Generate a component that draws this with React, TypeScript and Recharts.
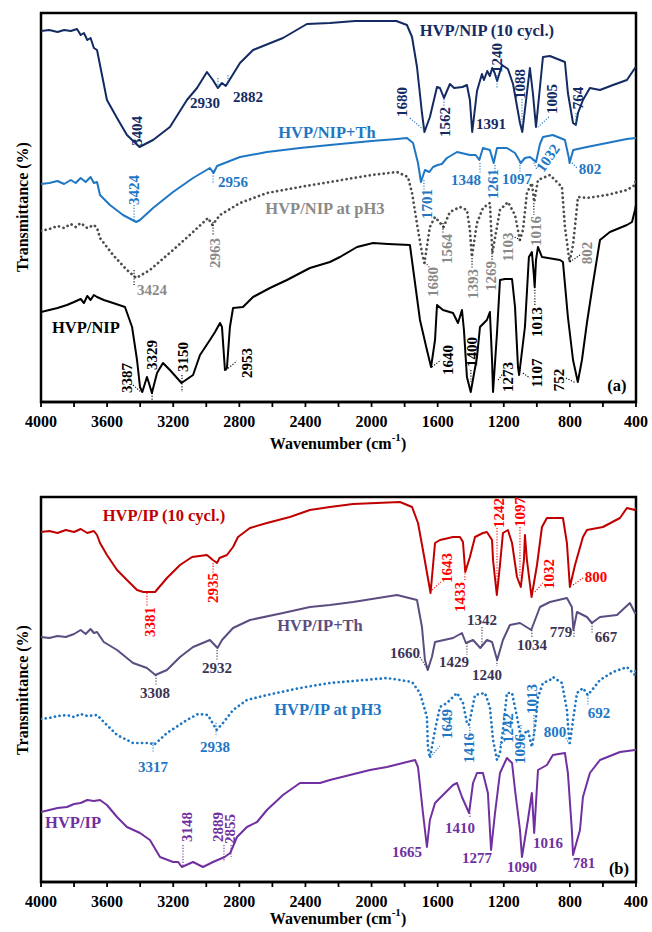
import {
  LineChart,
  Line,
  XAxis,
  YAxis,
  ReferenceArea,
  ReferenceDot,
  ReferenceLine,
} from 'recharts'

type Pt = [number, number] // [wavenumber cm-1, transmittance (arbitrary, offset)]
type Note = { t: string; w: number; v: number; c: string; r?: number; s?: number }
type Lead = [number, number, number, number, string]

const FONT = '"Liberation Serif", "Times New Roman", serif'

const xTicks = [4000, 3800, 3600, 3400, 3200, 3000, 2800, 2600, 2400, 2200, 2000, 1800, 1600, 1400, 1200, 1000, 800, 600, 400]

// ---- panel (a) spectra ----
const nip10Spec: Pt[] = [
  [4000, 92.75], [3950, 93], [3900, 92.5], [3860, 93], [3820, 92.75], [3782, 93.25], [3760, 91.75],
  [3740, 92.25], [3720, 90.5], [3700, 91], [3680, 88.5], [3661, 88], [3643, 84.25], [3601, 75.5],
  [3540, 71], [3480, 66.75], [3404, 63.75], [3322, 65.5], [3220, 68.75], [3117, 75.5], [3056, 78.5],
  [2996, 82.5], [2960, 80.5], [2930, 78.5], [2905, 79.75], [2882, 79], [2796, 84.75], [2717, 88],
  [2536, 91], [2391, 94.5], [2252, 94.75], [2100, 95.25], [1949, 95.25], [1850, 95.25], [1786, 94.25],
  [1755, 91.25], [1725, 83.75], [1695, 72.25], [1680, 67.5], [1647, 71.25], [1604, 78.75], [1586, 78.5],
  [1562, 76], [1526, 79.5], [1500, 78.5], [1450, 78.75], [1423, 79.25], [1405, 75.5], [1391, 67.5],
  [1362, 77.75], [1332, 82], [1320, 80.5], [1300, 82.75], [1284, 81.5], [1270, 83.5], [1255, 82.25],
  [1240, 80.25], [1211, 84.25], [1175, 83.25], [1144, 79.5], [1102, 69.75], [1088, 67.5], [1060, 77.25],
  [1042, 83.5], [1024, 77.25], [1005, 68.75], [981, 78.75], [963, 86.25], [921, 86.5], [860, 85.5],
  [830, 85], [812, 77.25], [781, 69.75], [764, 69.25], [751, 72.25], [721, 75.5], [679, 78.5],
  [618, 78], [539, 79.25], [455, 80.5], [406, 83.5], [400, 83.75],
]

const nipThSpec: Pt[] = [
  [4000, 54.5], [3950, 54.75], [3900, 55.25], [3860, 54.5], [3820, 55.5], [3790, 54.75], [3760, 56],
  [3730, 55], [3700, 56.25], [3680, 54.75], [3661, 55], [3643, 51.75], [3583, 49.25], [3504, 46.75],
  [3424, 45], [3401, 45.5], [3322, 48.5], [3201, 52.5], [3080, 56], [2978, 58.5], [2956, 57.25],
  [2935, 59], [2796, 61.25], [2633, 62.5], [2433, 63.5], [2252, 64.25], [2000, 65.25], [1846, 65.75],
  [1786, 66], [1749, 64.75], [1719, 59.75], [1701, 55], [1677, 58], [1650, 57.5], [1628, 58.75],
  [1600, 59.25], [1575, 59.5], [1544, 61], [1483, 62.5], [1405, 61.75], [1370, 61.75], [1348, 60.5],
  [1326, 63.5], [1284, 63], [1261, 59.75], [1241, 63.5], [1181, 63.5], [1132, 62.25], [1097, 59.75],
  [1072, 61], [1042, 61.25], [1018, 60.5], [1005, 60], [981, 64.5], [963, 66.25], [903, 66.75],
  [830, 65.5], [806, 61], [802, 59.75], [780, 63], [697, 63.75], [576, 64.75], [455, 65.75], [400, 66],
]

const nipPH3Spec: Pt[] = [
  [4000, 42.75], [3950, 43.25], [3900, 44], [3860, 43.5], [3820, 44.5], [3790, 43.75], [3760, 44.75],
  [3720, 43.5], [3680, 44.25], [3661, 43.5], [3643, 41], [3564, 36.75], [3480, 33], [3424, 31],
  [3341, 33], [3201, 38], [3080, 42.5], [2990, 46], [2963, 44.25], [2917, 46.75], [2796, 49.75],
  [2633, 52.25], [2433, 53.75], [2252, 55], [2000, 56.75], [1846, 57.5], [1780, 56.25], [1755, 52.25],
  [1719, 43], [1695, 37.25], [1680, 34.75], [1647, 43.75], [1616, 46.25], [1564, 43.75], [1526, 47.5],
  [1465, 48.75], [1423, 48], [1405, 43], [1393, 36.25], [1362, 44.75], [1326, 48.5], [1284, 49.75],
  [1269, 37.25], [1223, 48], [1175, 50], [1132, 46.75], [1103, 40.5], [1084, 43], [1060, 52.25],
  [1030, 54.75], [1016, 50], [993, 55.5], [921, 56.75], [848, 53.75], [830, 43.75], [802, 35],
  [781, 39.25], [751, 51.25], [697, 51], [576, 51.75], [455, 53], [406, 54.25], [400, 56],
]

const nipSpec: Pt[] = [
  [4000, 22.5], [3950, 23], [3900, 23.5], [3843, 24.25], [3800, 25], [3760, 25.75], [3740, 24.75],
  [3720, 26.5], [3700, 25.5], [3680, 26.75], [3661, 26.25], [3620, 25.5], [3564, 24.75], [3492, 23.75],
  [3449, 18.75], [3419, 10.5], [3401, 3.75], [3387, 2.5], [3359, 6.25], [3347, 4.75], [3329, 2.25],
  [3298, 7.25], [3262, 9.75], [3220, 8], [3150, 4.75], [3080, 6.75], [3038, 11.75], [2978, 15.5],
  [2947, 17.5], [2917, 19.75], [2905, 18.75], [2887, 8], [2875, 8.5], [2857, 18.75], [2838, 23.5],
  [2778, 23.75], [2717, 26.25], [2615, 28.5], [2512, 30.5], [2373, 33.5], [2252, 35], [2191, 36.25],
  [2088, 38.75], [1991, 39.75], [1900, 39.5], [1768, 39.25], [1737, 29.75], [1707, 20.5], [1665, 13],
  [1640, 8.75], [1616, 15.5], [1604, 24.25], [1568, 23], [1507, 22.25], [1477, 19.75], [1453, 23],
  [1441, 18], [1423, 6.25], [1400, 2.5], [1362, 11.25], [1344, 18.75], [1302, 20.5], [1284, 22.5],
  [1271, 10.5], [1265, 2.5], [1241, 17.25], [1223, 30.5], [1193, 30.75], [1150, 30.75], [1132, 23.75],
  [1114, 8.75], [1107, 6.75], [1072, 18.75], [1048, 36.25], [1030, 37.5], [1018, 31.75], [1013, 28.75],
  [1005, 35.5], [993, 38.75], [969, 36.25], [860, 35.5], [842, 35], [812, 21.25], [781, 10.5],
  [752, 5], [727, 10.5], [697, 19.75], [660, 29.75], [618, 40.5], [558, 42.5], [455, 44.25],
  [424, 45], [406, 48], [400, 49.25],
]

// ---- panel (b) spectra ----
const ip10Spec: Pt[] = [
  [4000, 87.5], [3950, 87.75], [3900, 87.25], [3850, 88], [3800, 87.5], [3760, 88.25], [3720, 87.25],
  [3680, 87.75], [3661, 86.75], [3643, 84.75], [3601, 81.75], [3540, 78], [3480, 75.5], [3419, 73],
  [3381, 72.5], [3310, 72.5], [3238, 76], [3159, 79.25], [3086, 81.25], [2996, 81.75], [2960, 80.5],
  [2935, 79.75], [2920, 81], [2875, 81.75], [2838, 83.75], [2808, 86.25], [2736, 88.5], [2633, 89.75],
  [2494, 91.25], [2373, 93], [2252, 93.75], [2112, 94.5], [1828, 95], [1755, 93.75], [1719, 89.75],
  [1689, 83], [1643, 72.25], [1616, 84.75], [1586, 85.5], [1507, 86.25], [1465, 86.25], [1447, 85],
  [1433, 77.5], [1405, 81.25], [1374, 86.25], [1326, 87.25], [1302, 87.5], [1271, 85.5], [1265, 80.5],
  [1242, 71.75], [1223, 79.25], [1205, 87.25], [1175, 88], [1150, 84.75], [1120, 76.25], [1097, 73.75],
  [1078, 80.5], [1072, 86.75], [1060, 80.5], [1032, 71.25], [999, 79.25], [969, 88.75], [939, 91],
  [842, 91], [818, 84.75], [800, 73.75], [769, 79.25], [721, 86.25], [697, 88], [600, 88.75],
  [497, 91], [455, 93.5], [406, 93], [400, 93.5],
]

const ipThSpec: Pt[] = [
  [4000, 61.25], [3950, 61], [3900, 61.5], [3850, 61.25], [3800, 62], [3760, 63], [3730, 62],
  [3700, 63.25], [3680, 62.25], [3661, 62.5], [3620, 60], [3540, 58], [3443, 54.75], [3359, 53.5],
  [3308, 51.75], [3238, 53], [3159, 56.25], [3080, 58.75], [2978, 60.5], [2932, 58.5], [2905, 60.5],
  [2838, 63.5], [2736, 65.5], [2536, 67.25], [2373, 68.75], [2252, 69.25], [2112, 70], [1846, 71.75],
  [1725, 70.5], [1695, 63.75], [1677, 55.5], [1660, 53], [1635, 56.25], [1616, 60], [1507, 61],
  [1453, 62.25], [1429, 59.75], [1386, 60.5], [1342, 58.5], [1302, 60.5], [1271, 60], [1240, 55.5],
  [1205, 60.5], [1163, 64.25], [1102, 64.75], [1034, 63], [981, 68.75], [921, 70], [818, 71],
  [788, 68.75], [779, 63], [757, 67.5], [697, 66.25], [667, 64.75], [618, 66.25], [515, 66.75],
  [437, 69.75], [406, 67.25], [400, 67.25],
]

const ipPH3Spec: Pt[] = [
  [4000, 40.75], [3950, 41], [3900, 41.5], [3843, 41.75], [3800, 41.25], [3760, 42], [3720, 41.5],
  [3661, 41.75], [3620, 40], [3540, 36.75], [3443, 34.75], [3341, 34.75], [3317, 34.25], [3238, 37.25],
  [3117, 40.5], [3050, 42], [2990, 41.75], [2938, 38], [2899, 39.75], [2838, 43], [2754, 45.5],
  [2633, 46.75], [2433, 48.5], [2252, 49.75], [2112, 50.25], [1907, 51], [1755, 50], [1707, 47.25],
  [1665, 41.25], [1659, 33.75], [1647, 31], [1616, 38], [1586, 43.75], [1544, 44.75], [1483, 47.25],
  [1447, 44.75], [1423, 39.75], [1411, 39.25], [1374, 46.75], [1314, 47.25], [1284, 43.75], [1265, 35.5],
  [1241, 30.5], [1223, 32.25], [1205, 38], [1181, 47.25], [1150, 47.25], [1120, 41.25], [1096, 36],
  [1072, 37.25], [1054, 38], [1030, 33.75], [1013, 38], [993, 46.25], [963, 49.75], [921, 50.5],
  [903, 51.25], [848, 49.75], [818, 43], [806, 36.25], [800, 34.75], [781, 40.5], [757, 47.25],
  [721, 48.5], [692, 46.75], [666, 48], [618, 50.5], [539, 52.5], [455, 53.75], [406, 51.75], [400, 53.5],
]

const ipSpec: Pt[] = [
  [4000, 17.5], [3950, 18], [3900, 18.5], [3843, 18.75], [3800, 19.5], [3760, 19.75], [3720, 20.5],
  [3680, 20.25], [3643, 20.5], [3601, 19.25], [3540, 16.25], [3480, 13.75], [3401, 12.25], [3341, 10.5],
  [3280, 6.25], [3201, 5], [3170, 5], [3148, 3.75], [3080, 5], [3020, 3.75], [2959, 5], [2889, 6.25],
  [2855, 7.25], [2814, 11.25], [2754, 13.75], [2693, 15], [2633, 18], [2536, 21.75], [2433, 24.75],
  [2312, 24.75], [2252, 25.5], [2010, 28], [1907, 28.75], [1737, 30.5], [1719, 28.75], [1689, 17.25],
  [1665, 8.75], [1647, 15.5], [1616, 19.75], [1568, 21.75], [1507, 24.25], [1483, 24.75], [1453, 21.25],
  [1410, 17.25], [1386, 24.75], [1362, 27.25], [1326, 27.25], [1296, 22.25], [1277, 8], [1253, 17.25],
  [1223, 27.25], [1181, 31], [1150, 29.75], [1132, 23], [1102, 13], [1090, 6.25], [1054, 15.5],
  [1030, 22.25], [1016, 12.25], [993, 28], [939, 29.25], [903, 31.75], [830, 32.25], [812, 27.25],
  [788, 13], [781, 6.75], [739, 13], [721, 21.25], [679, 27.25], [618, 30.5], [497, 32.5], [406, 33], [400, 33],
]

const NAVY = '#132a62'
const BLUE = '#1f77c4'
const GREY_LINE = '#4d4d4d'
const GREY_TXT = '#8a8a8a'
const DARKRED = '#c00000'
const RED = '#ff0000'
const PLUM = '#5c4d80'
const PLUM_TXT = '#3b3453'
const PURPLE = '#7030a0'

const seriesA = [
  { id: 'nip10', pts: nip10Spec, color: NAVY, dotted: false },
  { id: 'nipTh', pts: nipThSpec, color: BLUE, dotted: false },
  { id: 'nipPH3', pts: nipPH3Spec, color: GREY_LINE, dotted: true },
  { id: 'nip', pts: nipSpec, color: '#000', dotted: false },
]

const seriesB = [
  { id: 'ip10', pts: ip10Spec, color: DARKRED, dotted: false },
  { id: 'ipTh', pts: ipThSpec, color: PLUM, dotted: false },
  { id: 'ipPH3', pts: ipPH3Spec, color: BLUE, dotted: true },
  { id: 'ip', pts: ipSpec, color: PURPLE, dotted: false },
]

const notesA: Note[] = [
  { t: 'HVP/NIP (10 cycl.)', w: 1302, v: 93, c: NAVY, s: 16.5 },
  { t: 'HVP/NIP+Th', w: 2270, v: 67.5, c: BLUE, s: 16.5 },
  { t: 'HVP/NIP at pH3', w: 2282, v: 48.5, c: GREY_TXT, s: 16.5 },
  { t: 'HVP/NIP', w: 3728, v: 18.75, c: '#000', s: 16.5 },
  { t: '(a)', w: 515, v: 4.25, c: '#000', s: 16.5 },
  { t: '3404', w: 3419, v: 67.75, c: NAVY, r: -90 },
  { t: '2930', w: 3008, v: 74.75, c: NAVY },
  { t: '2882', w: 2748, v: 76.25, c: NAVY },
  { t: '1680', w: 1816, v: 75, c: NAVY, r: -90 },
  { t: '1562', w: 1556, v: 70, c: NAVY, r: -90 },
  { t: '1391', w: 1277, v: 69.5, c: NAVY },
  { t: '1240', w: 1241, v: 86, c: NAVY, r: -90 },
  { t: '1088', w: 1102, v: 79.5, c: NAVY, r: -90 },
  { t: '1005', w: 908, v: 75.75, c: NAVY, r: -90 },
  { t: '764', w: 751, v: 76, c: NAVY, r: -90 },
  { t: '3424', w: 3437, v: 53, c: BLUE, r: -90 },
  { t: '2956', w: 2838, v: 55, c: BLUE },
  { t: '1701', w: 1665, v: 49.5, c: BLUE, r: -90 },
  { t: '1348', w: 1429, v: 55.5, c: BLUE },
  { t: '1261', w: 1265, v: 54.5, c: BLUE, r: -90 },
  { t: '1097', w: 1120, v: 55.75, c: BLUE },
  { t: '1032', w: 933, v: 61, c: BLUE, r: -55 },
  { t: '802', w: 679, v: 58.25, c: BLUE },
  { t: '3424', w: 3328, v: 28, c: GREY_TXT },
  { t: '2963', w: 2947, v: 37.25, c: GREY_TXT, r: -90 },
  { t: '1680', w: 1628, v: 30, c: GREY_TXT, r: -90 },
  { t: '1564', w: 1544, v: 38.25, c: GREY_TXT, r: -90 },
  { t: '1393', w: 1386, v: 29.5, c: GREY_TXT, r: -90 },
  { t: '1269', w: 1277, v: 31.5, c: GREY_TXT, r: -90 },
  { t: '1103', w: 1175, v: 38.75, c: GREY_TXT, r: -90 },
  { t: '1016', w: 1005, v: 42.75, c: GREY_TXT, r: -90 },
  { t: '802', w: 697, v: 37.25, c: GREY_TXT, r: -90 },
  { t: '3387', w: 3480, v: 6, c: '#000', r: -90 },
  { t: '3329', w: 3328, v: 11.75, c: '#000', r: -90 },
  { t: '3150', w: 3141, v: 11.25, c: '#000', r: -90 },
  { t: '2953', w: 2754, v: 9.75, c: '#000', r: -90 },
  { t: '1640', w: 1538, v: 10.5, c: '#000', r: -90 },
  { t: '1400', w: 1392, v: 12.5, c: '#000', r: -90 },
  { t: '1273', w: 1175, v: 6.25, c: '#000', r: -90 },
  { t: '1107', w: 999, v: 7.25, c: '#000', r: -90 },
  { t: '1013', w: 999, v: 20, c: '#000', r: -90 },
  { t: '752', w: 866, v: 5.5, c: '#000', r: -90 },
]

const leadsA: Lead[] = [
  [2929, 81, 2929, 78.5, BLUE],
  [2869, 81.75, 2869, 79.25, BLUE],
  [1768, 71, 1683, 68, BLUE],
  [1562, 75.75, 1562, 73.75, BLUE],
  [1241, 81.75, 1241, 78.5, BLUE],
  [1090, 75.75, 1090, 68.75, BLUE],
  [927, 71.25, 993, 68.75, BLUE],
  [763, 72.25, 763, 68.75, BLUE],
  [3437, 49.25, 3437, 45, BLUE],
  [2959, 58, 2959, 54.5, BLUE],
  [1683, 55.5, 1683, 53, BLUE],
  [1344, 59.75, 1344, 57.25, BLUE],
  [1253, 59.25, 1253, 57.5, BLUE],
  [1102, 60, 1102, 57.5, BLUE],
  [1024, 60.5, 999, 58, BLUE],
  [788, 59.75, 757, 58.5, BLUE],
  [3437, 33, 3437, 29.25, '#000'],
  [2959, 45, 2959, 41.5, '#000'],
  [1677, 35, 1647, 33.5, GREY_LINE],
  [1568, 44.75, 1568, 42.25, '#000'],
  [1392, 36, 1392, 33.5, '#000'],
  [1271, 37.25, 1271, 35.5, '#000'],
  [1150, 41.5, 1096, 40.5, '#000'],
  [1018, 49.75, 1018, 46.75, '#000'],
  [800, 35, 739, 36.75, '#000'],
  [3443, 4.25, 3395, 2.5, '#000'],
  [3328, 2.25, 3328, 0.5, '#000'],
  [3147, 6.75, 3147, 2.5, '#000'],
  [2881, 8, 2814, 10.25, '#000'],
  [1635, 8.75, 1580, 10.5, '#000'],
  [1399, 8, 1399, 5, '#000'],
  [1235, 5.5, 1193, 7.75, '#000'],
  [1084, 7.25, 1042, 6, '#000'],
  [1012, 28.75, 1012, 24.25, '#000'],
  [824, 6, 763, 4.75, '#000'],
]

const notesB: Note[] = [
  { t: 'HVP/IP (10 cycl.)', w: 3256, v: 91.75, c: DARKRED, s: 16.5 },
  { t: 'HVP/IP+Th', w: 2312, v: 64.25, c: PLUM, s: 16.5 },
  { t: 'HVP/IP at pH3', w: 2264, v: 43.25, c: BLUE, s: 16.5 },
  { t: 'HVP/IP', w: 3806, v: 15, c: PURPLE, s: 16.5 },
  { t: '(b)', w: 503, v: 3.5, c: '#000', s: 16.5 },
  { t: '3381', w: 3341, v: 65, c: RED, r: -90 },
  { t: '2935', w: 2959, v: 73.5, c: RED, r: -90 },
  { t: '1643', w: 1544, v: 78.5, c: RED, r: -90 },
  { t: '1433', w: 1465, v: 71.25, c: RED, r: -90 },
  { t: '1242', w: 1229, v: 92.25, c: RED, r: -90 },
  { t: '1097', w: 1102, v: 92.5, c: RED, r: -90 },
  { t: '1032', w: 927, v: 77, c: RED, r: -90 },
  { t: '800', w: 642, v: 76.25, c: RED },
  { t: '3308', w: 3310, v: 47.25, c: PLUM_TXT },
  { t: '2932', w: 2935, v: 53.5, c: PLUM_TXT },
  { t: '1660', w: 1798, v: 57.25, c: PLUM_TXT },
  { t: '1429', w: 1501, v: 55, c: PLUM_TXT },
  { t: '1342', w: 1332, v: 65.5, c: PLUM_TXT },
  { t: '1240', w: 1302, v: 51.75, c: PLUM_TXT },
  { t: '1034', w: 1030, v: 59.25, c: PLUM_TXT },
  { t: '779', w: 854, v: 62.5, c: PLUM_TXT },
  { t: '667', w: 582, v: 61.25, c: PLUM_TXT },
  { t: '3317', w: 3322, v: 28.75, c: BLUE },
  { t: '2938', w: 2947, v: 33.75, c: BLUE },
  { t: '1649', w: 1544, v: 39.5, c: BLUE, r: -90 },
  { t: '1416', w: 1411, v: 33.5, c: BLUE, r: -90 },
  { t: '1242', w: 1175, v: 38.5, c: BLUE, r: -90 },
  { t: '1096', w: 1102, v: 33.25, c: BLUE, r: -90 },
  { t: '1013', w: 1030, v: 45.75, c: BLUE, r: -90 },
  { t: '800', w: 890, v: 37.5, c: BLUE },
  { t: '692', w: 624, v: 42.25, c: BLUE },
  { t: '3148', w: 3117, v: 13.75, c: PURPLE, r: -90 },
  { t: '2889', w: 2929, v: 13.75, c: PURPLE, r: -90 },
  { t: '2855', w: 2857, v: 13.25, c: PURPLE, r: -90 },
  { t: '1665', w: 1786, v: 7.5, c: PURPLE },
  { t: '1410', w: 1465, v: 13.5, c: PURPLE },
  { t: '1277', w: 1362, v: 6, c: PURPLE },
  { t: '1090', w: 1090, v: 3.75, c: PURPLE },
  { t: '1016', w: 933, v: 9.75, c: PURPLE },
  { t: '781', w: 715, v: 4.75, c: PURPLE },
]

const leadsB: Lead[] = [
  [3359, 72.25, 3359, 68.75, RED],
  [2959, 79.75, 2959, 77.25, RED],
  [1635, 73, 1580, 75, RED],
  [1435, 79.25, 1435, 75.5, RED],
  [1241, 88.5, 1241, 74.25, RED],
  [1102, 88.75, 1102, 76, RED],
  [1012, 72.5, 963, 74.75, RED],
  [781, 74.25, 721, 76, RED],
  [3304, 51.75, 3304, 49.25, PLUM_TXT],
  [2935, 58, 2935, 55.5, PLUM_TXT],
  [1707, 56.25, 1659, 53, PLUM_TXT],
  [1423, 59.75, 1423, 56.75, PLUM_TXT],
  [1332, 63.75, 1332, 59, PLUM_TXT],
  [1241, 55.5, 1241, 54, PLUM_TXT],
  [1030, 63, 1030, 61, PLUM_TXT],
  [775, 63, 775, 61, PLUM_TXT],
  [666, 64.75, 666, 62.25, PLUM_TXT],
  [3322, 35, 3322, 32.25, BLUE],
  [2941, 39.75, 2941, 36.75, BLUE],
  [1635, 31.75, 1586, 34, BLUE],
  [1405, 38.75, 1405, 36.75, BLUE],
  [1223, 34.25, 1193, 35.5, BLUE],
  [1096, 39.25, 1096, 36.75, BLUE],
  [1018, 41.75, 1018, 35.5, BLUE],
  [824, 36, 800, 34.25, BLUE],
  [691, 46.75, 691, 44.25, BLUE],
  [3141, 9.25, 3141, 3.75, PURPLE],
  [2893, 9.25, 2893, 5, PURPLE],
  [2850, 9.25, 2850, 6.25, PURPLE],
  [1405, 17.25, 1405, 16, PURPLE],
]

type Series = { id: string; pts: Pt[]; color: string; dotted: boolean }

function Panel({
  height,
  top,
  axisH,
  yMax,
  series,
  notes,
  leads,
}: {
  height: number
  top: number
  axisH: number
  yMax: number
  series: Series[]
  notes: Note[]
  leads: Lead[]
}) {
  return (
    <LineChart width={652} height={height} margin={{ top, right: 16, bottom: 0, left: 0 }}>
      <XAxis
        type="number"
        dataKey="w"
        domain={[400, 4000]}
        reversed
        allowDataOverflow
        ticks={xTicks}
        interval={0}
        tickFormatter={(t: number) => (t % 400 === 0 ? String(t) : '')}
        height={axisH}
        tickSize={5}
        tickMargin={9}
        axisLine={{ stroke: '#000', strokeWidth: 2.5 }}
        tickLine={{ stroke: '#000', strokeWidth: 1.8 }}
        tick={{ fill: '#000', fontSize: 16, fontWeight: 700, fontFamily: FONT }}
      />
      <YAxis type="number" domain={[0, yMax]} width={41} tick={false} axisLine={false} allowDataOverflow />
      <ReferenceArea
        x1={4000}
        x2={400}
        y1={0}
        y2={yMax}
        fill="none"
        fillOpacity={0}
        stroke="#000"
        strokeWidth={2.5}
        ifOverflow="visible"
      />
      {series.map((s) => (
        <Line
          key={s.id}
          data={s.pts.map(([w, v]) => ({ w, v }))}
          dataKey="v"
          type="linear"
          stroke={s.color}
          strokeWidth={s.dotted ? 2.7 : 2}
          strokeDasharray={s.dotted ? '0.1 4.6' : undefined}
          strokeLinecap="round"
          strokeLinejoin="round"
          dot={false}
          activeDot={false}
          isAnimationActive={false}
        />
      ))}
      {leads.map(([w1, v1, w2, v2, c], i) => (
        <ReferenceLine
          key={'l' + i}
          segment={[{ x: w1, y: v1 }, { x: w2, y: v2 }]}
          stroke={c}
          strokeWidth={1.1}
          strokeDasharray="1.2 1.6"
          ifOverflow="visible"
        />
      ))}
      {notes.map((n, i) => (
        <ReferenceDot
          key={'n' + i}
          x={n.w}
          y={n.v}
          r={0}
          ifOverflow="visible"
          shape={(p: any) => (
            <text
              x={p.cx}
              y={p.cy}
              transform={n.r ? `rotate(${n.r} ${p.cx} ${p.cy})` : undefined}
              textAnchor="middle"
              dominantBaseline="central"
              fill={n.c}
              fontFamily={FONT}
              fontWeight={700}
              fontSize={n.s ?? 15}
            >
              {n.t}
            </text>
          )}
        />
      ))}
    </LineChart>
  )
}

function Titles() {
  const txt = { fontFamily: FONT, fontWeight: 700, fontSize: 16, fill: '#000' }
  const xTitle = (y: number) => (
    <text x={338} y={y} textAnchor="middle" dominantBaseline="central" {...txt}>
      Wavenumber (cm<tspan dy={-6} fontSize={11}>-1</tspan>
      <tspan dy={6}>)</tspan>
    </text>
  )
  return (
    <svg width={652} height={932} style={{ position: 'absolute', left: 0, top: 0, pointerEvents: 'none' }}>
      <text x={22} y={207} transform="rotate(-90 22 207)" textAnchor="middle" dominantBaseline="central" {...txt}>
        Transmittance (%)
      </text>
      <text x={22} y={690} transform="rotate(-90 22 690)" textAnchor="middle" dominantBaseline="central" {...txt}>
        Transmittance (%)
      </text>
      {xTitle(443)}
      {xTitle(918)}
    </svg>
  )
}

export default function App() {
  return (
    <div style={{ position: 'absolute', left: 0, top: 0, width: 652, height: 932, background: '#fff' }}>
      <div style={{ position: 'absolute', left: 0, top: 0 }}>
        <Panel height={460} top={13} axisH={58} yMax={97.25} series={seriesA} notes={notesA} leads={leadsA} />
      </div>
      <div style={{ position: 'absolute', left: 0, top: 470 }}>
        <Panel height={462} top={27} axisH={50} yMax={96.25} series={seriesB} notes={notesB} leads={leadsB} />
      </div>
      <Titles />
    </div>
  )
}
